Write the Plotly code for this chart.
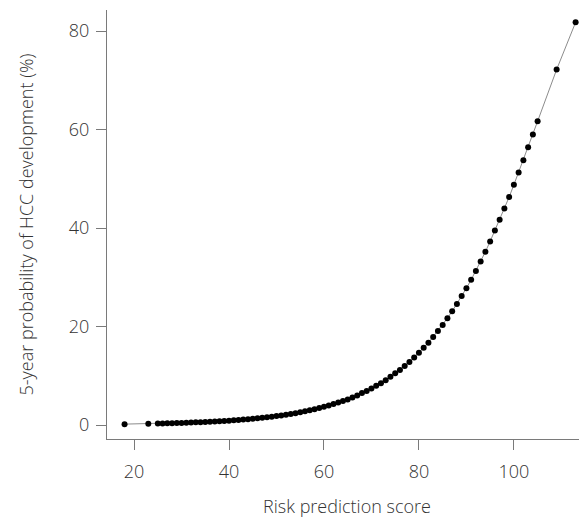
import plotly.graph_objects as go

# Risk prediction score (x) and 5-year HCC probability in % (y)
score = [18, 23] + list(range(25, 106)) + [109, 113]
prob = [
    0.18, 0.26,
    0.30, 0.33, 0.35, 0.38, 0.40, 0.43, 0.47, 0.50, 0.54, 0.58,   # 25-34
    0.62, 0.67, 0.72, 0.77, 0.83, 0.89, 0.95, 1.02, 1.10, 1.18,   # 35-44
    1.27, 1.36, 1.46, 1.57, 1.69, 1.81, 1.95, 2.09, 2.24, 2.41,   # 45-54
    2.59, 2.78, 2.98, 3.20, 3.44, 3.69, 3.96, 4.25, 4.55, 4.90,   # 55-64
    5.2, 5.6, 6.0, 6.5, 6.9, 7.4, 8.0, 8.5, 9.1, 9.8,             # 65-74
    10.5, 11.2, 12.0, 12.8, 13.7, 14.7, 15.7, 16.7, 17.9, 19.1,   # 75-84
    20.3, 21.7, 23.1, 24.6, 26.2, 27.8, 29.5, 31.3, 33.2, 35.2,   # 85-94
    37.3, 39.5, 41.7, 44.0, 46.3, 48.8, 51.3, 53.8, 56.4, 59.0,   # 95-104
    61.7,                                                          # 105
    72.2, 81.8,
]

x_ticks = [20, 40, 60, 80, 100]
y_ticks = [0, 20, 40, 60, 80]

fig = go.Figure(
    go.Scatter(
        x=score, y=prob, mode="lines+markers",
        line=dict(color="#8c8c8c", width=1),
        marker=dict(color="black", size=6),
        showlegend=False,
        cliponaxis=False,
    )
)

axis_common = dict(
    showline=True, linecolor="#7a7a7a", linewidth=1,
    ticks="outside", ticklen=10, tickcolor="#7a7a7a", tickwidth=1,
    showgrid=False, zeroline=False,
    tickfont=dict(family="Open Sans", size=18, color="#333333", weight=300),
)

fig.update_layout(
    width=579, height=510,
    margin=dict(l=99, r=0, t=2, b=79),
    paper_bgcolor="white", plot_bgcolor="white",
    font=dict(family="Open Sans", color="#333333", weight=300),
    xaxis=dict(
        range=[14.3, 115.4], tickvals=x_ticks, ticklabelstandoff=6,
        title=dict(text="Risk prediction score",
                   font=dict(size=18, color="#333333", weight=300), standoff=21),
        **axis_common,
    ),
    yaxis=dict(
        range=[-2.84, 84.3], tickvals=y_ticks, ticklabelstandoff=3,
        title=dict(text="5-year probability of HCC development (%)",
                   font=dict(size=18, color="#333333", weight=300), standoff=30),
        **axis_common,
    ),
)

fig.write_html("out.html")
